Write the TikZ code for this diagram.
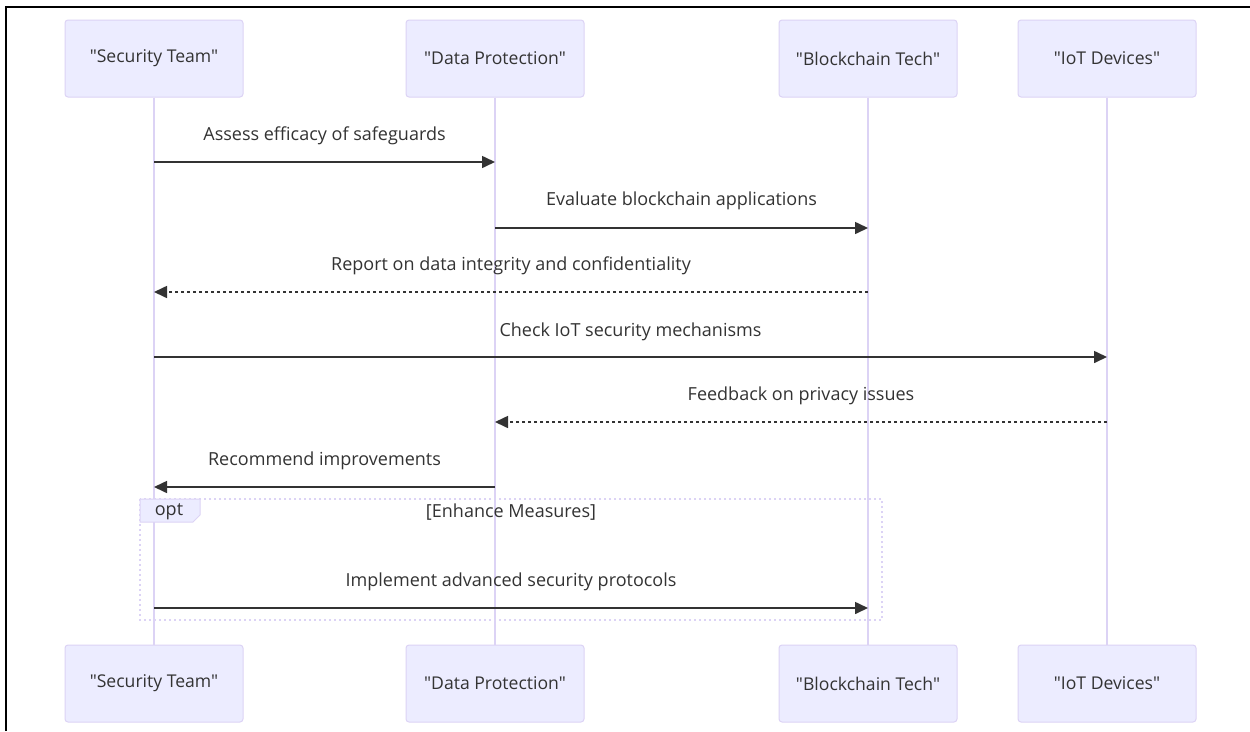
\documentclass[tikz,border=0pt]{standalone}
\usepackage{fontspec}
\setmainfont{Open Sans}[Ligatures=TeXOff]
\usetikzlibrary{arrows.meta}
\definecolor{actfill}{HTML}{ECECFF}
\definecolor{actline}{HTML}{DCD3F5}
\definecolor{msgline}{HTML}{333333}
\definecolor{txt}{HTML}{333333}
\tikzset{
  actor/.style={draw=actline, line width=1pt, fill=actfill, rounded corners=3pt,
    minimum width=178pt, minimum height=77pt, inner sep=0pt, text=txt,
    font=\fontsize{17.6}{20}\selectfont},
  lifeline/.style={draw=actline, line width=1.8pt},
  msg/.style={draw=msgline, line width=1.6pt, -{Triangle[length=13pt,width=12pt]}},
  reply/.style={msg, dash pattern=on 3pt off 3pt},
  msglabel/.style={text=txt, font=\fontsize{18}{21}\selectfont, inner sep=0pt},
  framebox/.style={draw=actline, line width=1.6pt, dash pattern=on 2pt off 3pt},
}
\begin{document}
\begin{tikzpicture}[x=1pt,y=-1pt]
\useasboundingbox (0,0) rectangle (1250,731);
\fill[white] (0,0) rectangle (1250,731);
% screenshot edges
\draw[black, line width=1.2pt] (6,731) -- (6,7) -- (1250,7);

% participants
\node[actor] (st)  at (154,58.5) {\raisebox{-2pt}{"Security Team"}};
\node[actor] (dp)  at (495,58.5) {\raisebox{-2pt}{"Data Protection"}};
\node[actor] (bc)  at (868,58.5) {\raisebox{-2pt}{"Blockchain Tech"}};
\node[actor] (iot) at (1107,58.5) {\raisebox{-2pt}{"IoT Devices"}};
\node[actor] (st2)  at (154,683.5) {\raisebox{-2pt}{"Security Team"}};
\node[actor] (dp2)  at (495,683.5) {\raisebox{-2pt}{"Data Protection"}};
\node[actor] (bc2)  at (868,683.5) {\raisebox{-2pt}{"Blockchain Tech"}};
\node[actor] (iot2) at (1107,683.5) {\raisebox{-2pt}{"IoT Devices"}};

% lifelines
\draw[lifeline] (st.south) -- (st2.north);
\draw[lifeline] (dp.south) -- (dp2.north);
\draw[lifeline] (bc.south) -- (bc2.north);
\draw[lifeline] (iot.south) -- (iot2.north);

% anchor points on the lifelines
\foreach \n/\x in {st/154, dp/495, bc/868, iot/1107}{
  \foreach \y in {162,228,292,357,422,487,608}{
    \coordinate (\n-\y) at (\x,\y);
  }
}

% opt frame
\coordinate (fa) at (140,499);
\coordinate (fb) at (882,620);
\draw[framebox] (fa) rectangle (fb);
\filldraw[fill=actfill, draw=actline, line width=1pt]
  (140,499) -- (200,499) -- (200,515) -- (193,522) -- (140,522) -- cycle;
\node[msglabel] (optlbl) at (169,512) {opt};
\node[msglabel] (cond) at (511,512) {[Enhance Measures]};

% messages
\draw[msg] (st-162) -- (dp-162);
\node[msglabel] (m1) at (324.5,135.5) {Assess efficacy of safeguards};
\draw[msg] (dp-228) -- (bc-228);
\node[msglabel] (m2) at (681.5,200.5) {Evaluate blockchain applications};
\draw[reply] (bc-292) -- (st-292);
\node[msglabel] (m3) at (511,265.5) {Report on data integrity and confidentiality};
\draw[msg] (st-357) -- (iot-357);
\node[msglabel] (m4) at (630.5,331.5) {Check IoT security mechanisms};
\draw[reply] (iot-422) -- (dp-422);
\node[msglabel] (m5) at (801,395.5) {Feedback on privacy issues};
\draw[msg] (dp-487) -- (st-487);
\node[msglabel] (m6) at (324.5,460.5) {Recommend improvements};
\draw[msg] (st-608) -- (bc-608);
\node[msglabel] (m7) at (511,581.5) {Implement advanced security protocols};
\end{tikzpicture}
\end{document}
